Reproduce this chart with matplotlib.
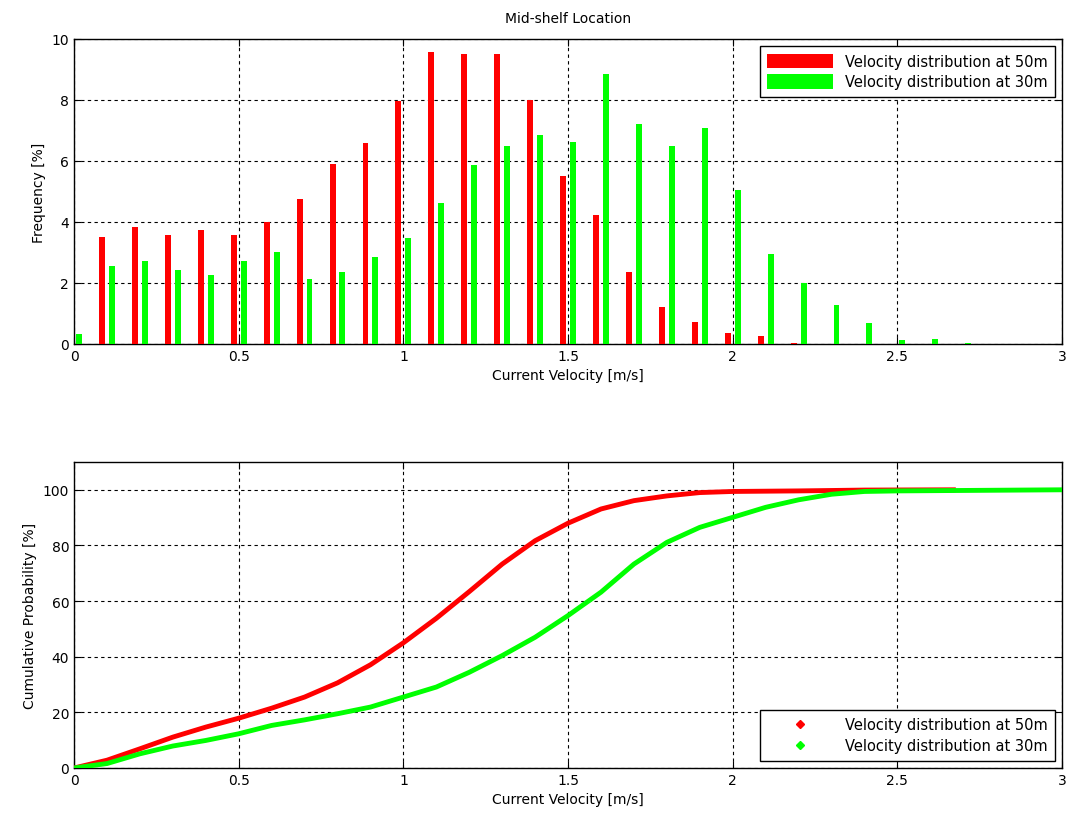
import matplotlib.pyplot as plt
import numpy as np
from matplotlib.lines import Line2D

plt.rcParams['font.family'] = ['DejaVu Sans']
plt.rcParams['font.size'] = 10

# histogram: bin centres 0:0.1:3
bins = np.round(np.arange(0, 3.01, 0.1), 2)
freq_50m = [0, 3.50, 3.83, 3.58, 3.74, 3.58, 4.01, 4.74, 5.89, 6.58, 7.95,
            9.58, 9.50, 9.50, 7.99, 5.52, 4.24, 2.37, 1.22, 0.71, 0.36,
            0.27, 0.03, 0, 0, 0, 0, 0, 0, 0, 0]
freq_30m = [0.32, 2.55, 2.73, 2.42, 2.27, 2.73, 3.01, 2.14, 2.36, 2.86, 3.46,
            4.61, 5.88, 6.48, 6.84, 6.61, 8.85, 7.20, 6.48, 7.07, 5.06,
            2.95, 2.00, 1.27, 0.68, 0.13, 0.17, 0.04, 0, 0, 0]

# cumulative probability
cdf_x_50m = [0, 0.1, 0.2, 0.3, 0.4, 0.5, 0.6, 0.7, 0.8, 0.9, 1.0, 1.1, 1.2,
             1.3, 1.4, 1.5, 1.6, 1.7, 1.8, 1.9, 2.0, 2.2, 2.4, 2.67]
cdf_50m = [0, 2.8, 6.9, 11.1, 14.7, 17.9, 21.5, 25.5, 30.6, 37.1, 45.0, 53.8,
           63.4, 73.3, 81.7, 88.0, 93.1, 96.1, 97.8, 99.0, 99.4, 99.6,
           99.9, 100]
cdf_x_30m = [0, 0.1, 0.2, 0.3, 0.4, 0.5, 0.6, 0.7, 0.8, 0.9, 1.0, 1.1, 1.2,
             1.3, 1.4, 1.5, 1.6, 1.7, 1.8, 1.9, 2.0, 2.1, 2.2, 2.3,
             2.4, 2.5, 3.0]
cdf_30m = [0, 1.6, 5.1, 7.9, 9.9, 12.3, 15.3, 17.3, 19.5, 21.9, 25.5, 29.1,
           34.4, 40.4, 47.0, 54.8, 63.2, 73.3, 81.1, 86.5, 90.1, 93.7,
           96.4, 98.4, 99.4, 99.6, 100]

labels = ['Velocity distribution at 50m', 'Velocity distribution at 30m']
red = '#ff0000'
green = '#00ff00'

fig = plt.figure(figsize=(10.7, 8.2), dpi=100)
ax1 = fig.add_axes([0.0692, 0.5793, 0.9234, 0.372])
ax2 = fig.add_axes([0.0692, 0.0622, 0.9234, 0.3732])

grid_style = dict(color='black', linestyle=(0, (3, 3)), linewidth=0.8)

# top: grouped bars
w = 0.018
ax1.bar(bins - 0.015, freq_50m, width=w, color=red, linewidth=0,
        label=labels[0], zorder=3)
ax1.bar(bins + 0.015, freq_30m, width=w, color=green, linewidth=0,
        label=labels[1], zorder=3)
ax1.set_xlim(0, 3)
ax1.set_ylim(0, 10)
ax1.set_xticks(np.arange(0, 3.01, 0.5))
ax1.set_xticklabels(['0', '0.5', '1', '1.5', '2', '2.5', '3'])
ax1.set_yticks(range(0, 11, 2))
ax1.set_title('Mid-shelf Location', fontsize=10, pad=12)
ax1.set_xlabel('Current Velocity [m/s]')
ax1.set_ylabel('Frequency [%]')
leg1 = ax1.legend(loc='upper right', fancybox=False, edgecolor='black',
                  framealpha=1, handlelength=4.5, handleheight=1.2,
                  borderpad=0.5, labelspacing=0.35, fontsize=10.5)
leg1.get_frame().set_linewidth(1.0)

# bottom: cumulative curves
ax2.plot(cdf_x_50m, cdf_50m, color=red, linewidth=3.5, zorder=3)
ax2.plot(cdf_x_30m, cdf_30m, color=green, linewidth=3.5, zorder=3)
ax2.set_xlim(0, 3)
ax2.set_ylim(0, 110)
ax2.set_xticks(np.arange(0, 3.01, 0.5))
ax2.set_xticklabels(['0', '0.5', '1', '1.5', '2', '2.5', '3'])
ax2.set_yticks(range(0, 101, 20))
ax2.set_xlabel('Current Velocity [m/s]')
ax2.set_ylabel('Cumulative Probability [%]')
handles = [Line2D([], [], color=red, linestyle='none', marker='D', markersize=4),
           Line2D([], [], color=green, linestyle='none', marker='D', markersize=4)]
leg2 = ax2.legend(handles, labels, loc='lower right', fancybox=False,
                  edgecolor='black', framealpha=1, handlelength=4.5,
                  borderpad=0.5, labelspacing=0.45, fontsize=10.5)
leg2.get_frame().set_linewidth(1.0)

for ax in (ax1, ax2):
    ax.set_axisbelow(True)
    ax.grid(True, **grid_style)
    ax.tick_params(direction='in', top=True, right=True, length=5)
    for s in ax.spines.values():
        s.set_linewidth(1.0)

fig.savefig('out.png', dpi=100)
